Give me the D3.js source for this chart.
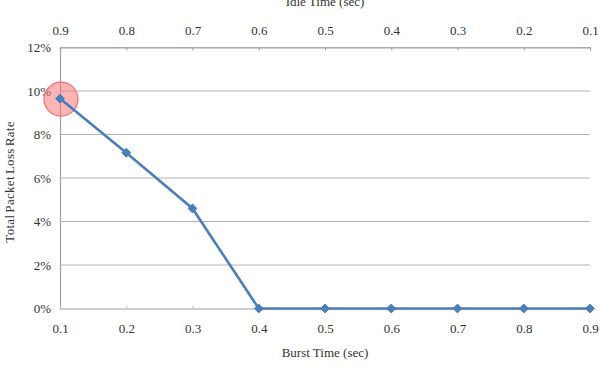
<!DOCTYPE html>
<html>
<head>
<meta charset="utf-8">
<script src="https://cdn.jsdelivr.net/npm/d3@7"></script>
<style>
  body { margin: 0; background: #fff; }
  text { font-family: "Liberation Serif", "DejaVu Serif", serif; }
</style>
</head>
<body>
<div id="chart"></div>
<script>
'use strict'

// burst times (bottom axis) and idle times (top axis)
const burstTimes = [0.1, 0.2, 0.3, 0.4, 0.5, 0.6, 0.7, 0.8, 0.9]
const idleTimes = [0.9, 0.8, 0.7, 0.6, 0.5, 0.4, 0.3, 0.2, 0.1]
// total packet loss rate, as fraction
const lossRates = [0.0965, 0.0716, 0.046, 0, 0, 0, 0, 0, 0]
const yTicks = [0, 0.02, 0.04, 0.06, 0.08, 0.10, 0.12]

const width = 603
const height = 366
const margin = { top: 47.5, right: 13, bottom: 57.5, left: 60 }
const innerW = width - margin.left - margin.right
const innerH = height - margin.top - margin.bottom

const svg = d3.select('#chart')
  .append('svg')
    .attr('width', width)
    .attr('height', height)
  .append('g')
    .attr('transform', `translate(${margin.left}, ${margin.top})`)

const x = d3.scaleLinear().domain([0.1, 0.9]).range([0, innerW])
const xTop = d3.scaleLinear().domain([0.9, 0.1]).range([0, innerW])
const y = d3.scaleLinear().domain([0, 0.12]).range([innerH, 0])

// gridlines
svg.append('g')
  .selectAll('line')
  .data(yTicks.slice(1))
  .join('line')
    .attr('x1', 0)
    .attr('x2', innerW)
    .attr('y1', d => y(d))
    .attr('y2', d => y(d))
    .attr('stroke', '#b4b4b4')
    .attr('stroke-width', 1.2)

// left axis
const yAxis = svg.append('g')
  .call(d3.axisLeft(y).tickValues(yTicks).tickFormat(d3.format('.0%')).tickSize(0).tickPadding(9))
yAxis.select('.domain').attr('stroke', '#a0a0a0').attr('stroke-width', 1.2)
yAxis.selectAll('text').attr('font-size', 13).attr('fill', '#333')

// bottom axis
const xAxis = svg.append('g')
  .attr('transform', `translate(0, ${innerH})`)
  .call(d3.axisBottom(x).tickValues(burstTimes).tickFormat(d3.format('.1f')).tickSizeInner(-3).tickSizeOuter(0).tickPadding(15))
xAxis.select('.domain').attr('stroke', '#a0a0a0').attr('stroke-width', 1.2)
xAxis.selectAll('.tick line').attr('stroke', '#c0c0c0')
xAxis.selectAll('text').attr('font-size', 13).attr('fill', '#333')

// top axis
const topAxis = svg.append('g')
  .call(d3.axisTop(xTop).tickValues(idleTimes).tickFormat(d3.format('.1f')).tickSizeInner(-3).tickSizeOuter(-3).tickPadding(13))
topAxis.select('.domain').attr('stroke', '#a0a0a0').attr('stroke-width', 1.2)
topAxis.selectAll('.tick line').attr('stroke', '#a0a0a0')
topAxis.selectAll('text').attr('font-size', 13).attr('fill', '#333')

// axis titles
svg.append('text')
  .attr('x', innerW / 2)
  .attr('y', innerH + 48)
  .attr('text-anchor', 'middle')
  .attr('font-size', 13)
  .attr('fill', '#333')
  .text('Burst Time (sec)')

svg.append('text')
  .attr('x', innerW / 2)
  .attr('y', -42)
  .attr('text-anchor', 'middle')
  .attr('font-size', 13)
  .attr('fill', '#333')
  .text('Idle Time (sec)')

svg.append('text')
  .attr('transform', `translate(${-46}, ${innerH / 2 + 4}) rotate(-90)`)
  .attr('text-anchor', 'middle')
  .attr('font-size', 13)
  .attr('letter-spacing', 0.3)
  .attr('word-spacing', -1.5)
  .attr('fill', '#333')
  .text('Total Packet Loss Rate')

const points = burstTimes.map((b, i) => ({ burst: b, rate: lossRates[i] }))

// highlight circle on first point
svg.append('circle')
  .attr('cx', x(points[0].burst) + 1)
  .attr('cy', y(points[0].rate) + 0.5)
  .attr('r', 17)
  .attr('fill', 'rgba(250, 120, 120, 0.55)')
  .attr('stroke', '#f07070')
  .attr('stroke-width', 1.2)

// line
svg.append('path')
  .datum(points)
  .attr('fill', 'none')
  .attr('stroke', '#4a7ebb')
  .attr('stroke-width', 2.6)
  .attr('d', d3.line()
    .x(d => x(d.burst))
    .y(d => y(d.rate))
  )

// diamond markers
svg.append('g')
  .selectAll('path')
  .data(points)
  .join('path')
    .attr('transform', d => `translate(${x(d.burst)}, ${y(d.rate)})`)
    .attr('d', d3.symbol(d3.symbolDiamond2, 50))
    .attr('fill', '#4a7ebb')
    .attr('stroke', '#4a7ebb')
    .attr('stroke-width', 1)
</script>
</body>
</html>
